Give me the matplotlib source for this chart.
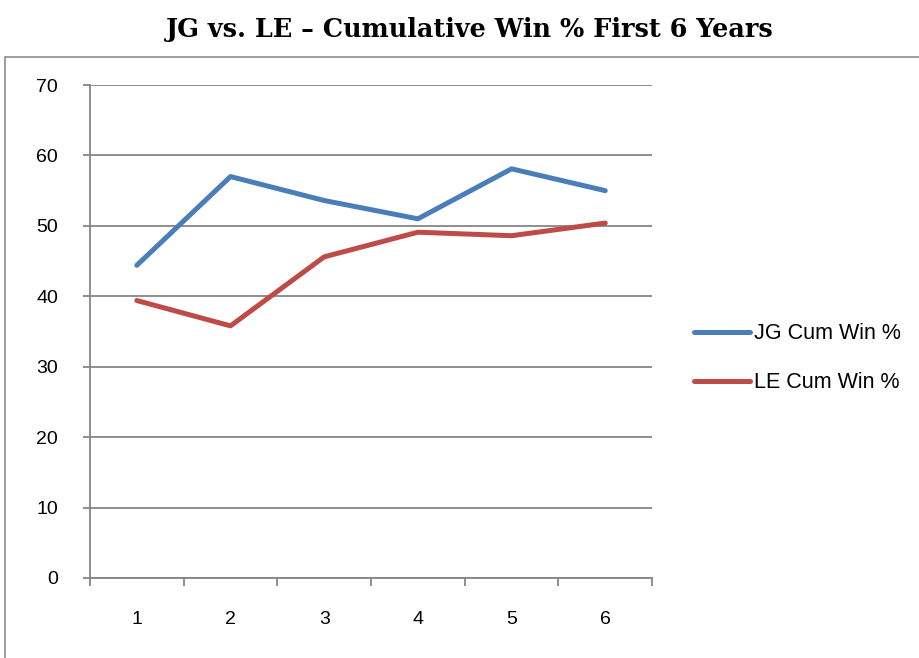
import matplotlib
matplotlib.use("Agg")
import matplotlib.pyplot as plt
from matplotlib.patches import Rectangle

# data
years = [1, 2, 3, 4, 5, 6]
jg_cum_win = [44.4, 57.0, 53.6, 51.0, 58.1, 55.0]
le_cum_win = [39.4, 35.8, 45.6, 49.1, 48.6, 50.4]
y_ticks = [0, 10, 20, 30, 40, 50, 60, 70]

grey = "#868686"
blue = "#4A7EBB"
red = "#BE4B48"

fig = plt.figure(figsize=(9.2, 6.58), dpi=100)
ax = fig.add_axes([0.0978, 0.1216, 0.611, 0.7492])

# outer chart frame (runs off right/bottom edges)
fig.patches.append(Rectangle((5 / 920, -0.1), 1.2, 1.0 - 57 / 658 + 0.1,
                             transform=fig.transFigure, fill=False,
                             edgecolor="#8c8c8c", linewidth=1.2))

ax.plot(years, jg_cum_win, color=blue, lw=3.6, solid_capstyle="round",
        solid_joinstyle="round", label="JG Cum Win %")
ax.plot(years, le_cum_win, color=red, lw=3.6, solid_capstyle="round",
        solid_joinstyle="round", label="LE Cum Win %")

ax.set_xlim(0.5, 6.5)
ax.set_ylim(0, 70)
ax.set_yticks(y_ticks)
ax.set_xticks(years)
ax.set_xticks([x + 0.5 for x in range(0, 7)], minor=True)
ax.yaxis.grid(True, color=grey, lw=1.3)
ax.set_axisbelow(True)

for s in ["top", "right"]:
    ax.spines[s].set_visible(False)
for s in ["left", "bottom"]:
    ax.spines[s].set_color(grey)
    ax.spines[s].set_linewidth(1.3)

ax.tick_params(axis="y", length=5, color=grey, width=1.3, pad=18,
               labelsize=14)
ax.tick_params(axis="x", which="major", length=0, pad=24, labelsize=14)
ax.tick_params(axis="x", which="minor", length=6, color=grey, width=1.3)
for lbl in ax.get_xticklabels() + ax.get_yticklabels():
    lbl.set_family(["Liberation Sans", "DejaVu Sans"])

leg = ax.legend(loc="center left", bbox_to_anchor=(1.04, 0.446), frameon=False,
                handlelength=2.6, handletextpad=0.2, labelspacing=1.3,
                prop={"family": "Liberation Sans", "size": 15.5})

fig.text(0.511, 0.955, "JG vs. LE \u2013 Cumulative Win % First 6 Years",
         ha="center", va="center", fontsize=18.4, fontweight="bold",
         family=["DejaVu Serif"])

fig.savefig("out.png", dpi=100)
